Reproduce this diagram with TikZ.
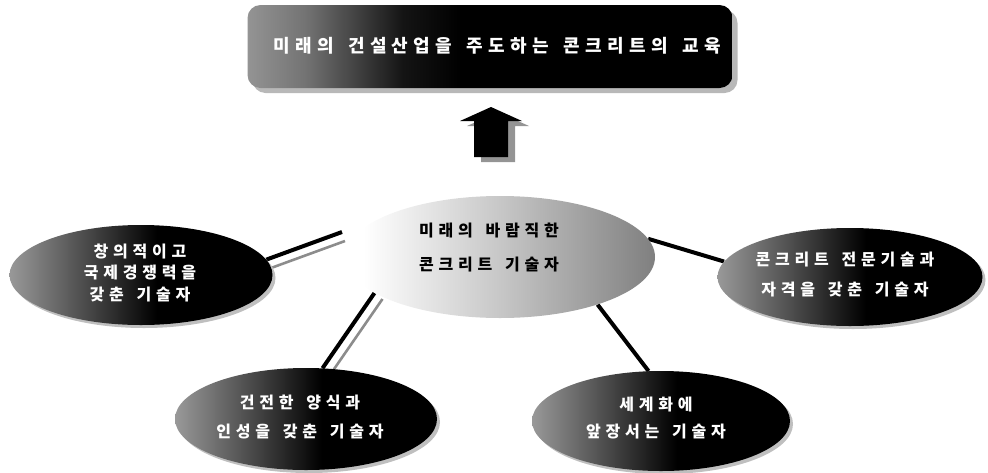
\documentclass[tikz,border=0pt]{standalone}
\usepackage{fontspec}
\newfontfamily\kr{Noto Sans CJK KR}[LetterSpace=30,WordSpace=1.5]
\usetikzlibrary{shapes.geometric,shadows}
\pgfdeclarelayer{bg}
\pgfsetlayers{bg,main}
\pgfdeclarehorizontalshading{bannershade}{100bp}{color(0bp)=(black!42); color(25bp)=(black!42); color(31bp)=(black!55); color(41bp)=(black!92); color(47bp)=(black); color(100bp)=(black)}
\pgfdeclarehorizontalshading{darkshade}{100bp}{color(0bp)=(black!40); color(25bp)=(black!40); color(40bp)=(black!72); color(53bp)=(black); color(100bp)=(black)}
\pgfdeclarehorizontalshading{lightshade}{100bp}{color(0bp)=(white); color(28bp)=(white); color(50bp)=(black!22); color(75bp)=(black!50); color(100bp)=(black!50)}
\begin{document}
\begin{tikzpicture}[x=1pt,y=-1pt,
  banner/.style={rectangle, rounded corners=13pt, minimum width=485pt, minimum height=83pt,
    inner sep=0pt, shade, shading=bannershade, shading angle=0,
    drop shadow={shadow xshift=5pt, shadow yshift=-5pt, fill=black!28, opacity=1}},
  darkell/.style={ellipse, inner sep=0pt, shade, shading=darkshade, shading angle=0,
    drop shadow={shadow xshift=3pt, shadow yshift=-3pt, fill=black!25, opacity=1}},
  lightell/.style={ellipse, inner sep=0pt, shade, shading=lightshade, shading angle=0},
  wtext/.style={align=center, text=white, inner sep=0pt, font=\kr\bfseries\fontsize{16}{#1}\selectfont},
  btext/.style={align=center, text=black, inner sep=0pt, font=\kr\bfseries\fontsize{16}{#1}\selectfont},
  conn/.style={line width=4pt, black},
  connshadow/.style={line width=2.6pt, black!45}
]
\useasboundingbox (0,0) rectangle (988,472);

% title banner
\node[banner] (t) at (490,46.5) {};
\node[text=white, inner sep=0pt, font=\kr\bfseries\fontsize{18}{20}\selectfont] (tt) at (497,46)
  {미래의 건설산업을 주도하는 콘크리트의 교육};

% up arrow
\fill[black!42] (498,112) -- (529,126) -- (515,126) -- (515,162) -- (481,162) -- (481,126) -- (467,126) -- cycle;
\fill[black] (491,107) -- (522,121) -- (508,121) -- (508,157) -- (474,157) -- (474,121) -- (460,121) -- cycle;

% ellipses
\node[lightell, minimum width=310pt, minimum height=122pt] (c) at (500,257) {};
\node[darkell, minimum width=263pt, minimum height=100pt] (l) at (141,275) {};
\node[darkell, minimum width=265pt, minimum height=98pt] (r) at (850,277) {};
\node[darkell, minimum width=262pt, minimum height=102pt] (bl) at (306,419) {};
\node[darkell, minimum width=258pt, minimum height=100pt] (br) at (661,421) {};

% texts
\node[btext=34] (ct) at (489,248) {미래의 바람직한\\콘크리트 기술자};
\node[wtext=21.5] (lt) at (140,272.5) {창의적이고\\국제경쟁력을\\갖춘 기술자};
\node[wtext=30] (rt) at (845,274) {콘크리트 전문기술과\\자격을 갖춘 기술자};
\node[wtext=29] (blt) at (300,417.5) {건전한 양식과\\인성을 갖춘 기술자};
\node[wtext=27] (brt) at (656,418.5) {세계화에\\앞장서는 기술자};

% connectors
\coordinate (e1) at (342,232);
\begin{pgfonlayer}{bg}
  \draw[connshadow, transform canvas={shift={(3pt,-9pt)}}] (l.7.8) -- (e1);
  \draw[conn] (l.7.8) -- (e1);
  \draw[connshadow, transform canvas={shift={(8pt,-6pt)}}] (bl.72.6) -- (c.196.7);
  \draw[conn] (bl.72.6) -- (c.196.7);
  \draw[conn] (c.7.75) -- (r.173.5);
  \draw[conn] (c.-26.4) -- (br.104.8);
\end{pgfonlayer}
\end{tikzpicture}
\end{document}
